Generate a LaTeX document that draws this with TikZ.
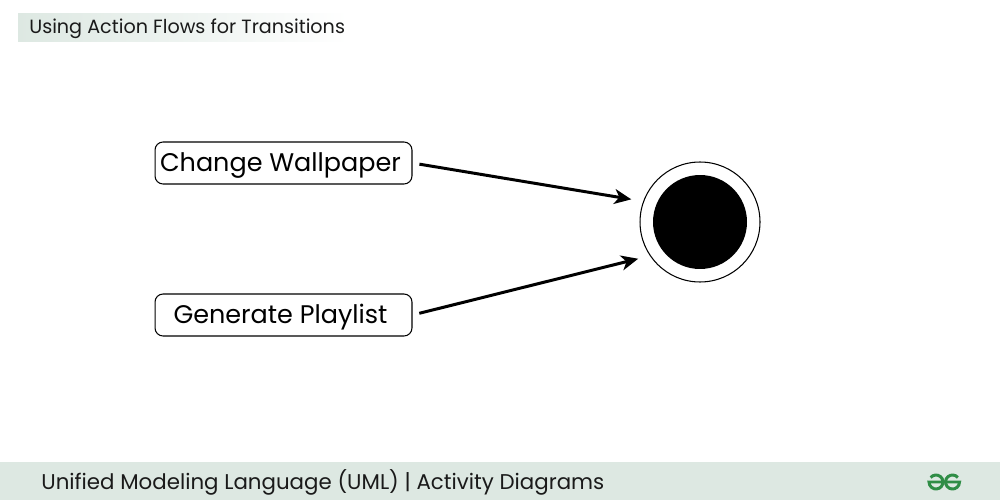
\documentclass[tikz,border=0pt]{standalone}
\usepackage{fontspec}
\setmainfont{Poppins}
\usetikzlibrary{positioning, arrows.meta}

\definecolor{gfgtint}{HTML}{DDE8E2}
\definecolor{gfggreen}{HTML}{2F8D46}
\definecolor{inkdark}{HTML}{1A1A1A}

\tikzset{
    action/.style={draw, rounded corners=0.16cm, line width=0.6pt,
        minimum width=5.14cm, minimum height=0.84cm, inner sep=0pt,
        text height=10.2pt, text depth=0pt,
        font=\fontsize{14.5}{17}\selectfont},
    caption/.style={anchor=base west, inner sep=0pt, text=inkdark},
    flow/.style={-{Stealth[length=0.34cm, width=0.3cm, inset=0.1cm]},
        line width=1.7pt, shorten <=0.14cm, shorten >=0.24cm},
    finalring/.style={circle, draw, line width=0.6pt, minimum size=2.4cm, inner sep=0pt},
    finaldot/.style={circle, fill=black, minimum size=1.88cm, inner sep=0pt}
}

\begin{document}
\begin{tikzpicture}[x=0.02cm, y=-0.02cm, node distance=1mm]
        \useasboundingbox (0,0) rectangle (1000,500);
        \fill[white] (0,0) rectangle (1000,500);

        % heading strip
        \shade[left color=gfgtint, right color=white] (18,14) rectangle (348,42);
        \node[caption, font=\fontsize{10.9}{13}\selectfont] (heading) at (29,34) {Using Action Flows for Transitions};

        % actions and final node
        \node[action] (wallpaper) at (283.5,163) {\hspace*{-0.12cm}Change Wallpaper};
        \node[action] (playlist) at (283.5,315) {\hspace*{-0.12cm}Generate Playlist};
        \node[finalring] (final) at (700,222) {};
        \node[finaldot] (finalDot) at (final) {};

        \draw[flow] (wallpaper.east) -- (final.160);
        \draw[flow] (playlist.east) -- (final.214);

        % footer
        \fill[gfgtint] (0,462) rectangle (1000,500);
        \node[caption, font=\fontsize{12.15}{15}\selectfont] (footer) at (41,489) {Unified Modeling Language (UML) | Activity Diagrams};
        \coordinate (logoLeft) at (936,482);
        \coordinate (logoRight) at (952.5,482);
        \draw[gfggreen, line width=1.7pt] ([shift={(140:0.14cm)}]logoLeft) arc[start angle=140, delta angle=-320, radius=0.14cm] -- ([shift={(0:0.14cm)}]logoLeft);
        \draw[gfggreen, line width=1.7pt] ([shift={(40:0.14cm)}]logoRight) arc[start angle=40, delta angle=320, radius=0.14cm] -- ([shift={(180:0.14cm)}]logoRight);
    \end{tikzpicture}
\end{document}
